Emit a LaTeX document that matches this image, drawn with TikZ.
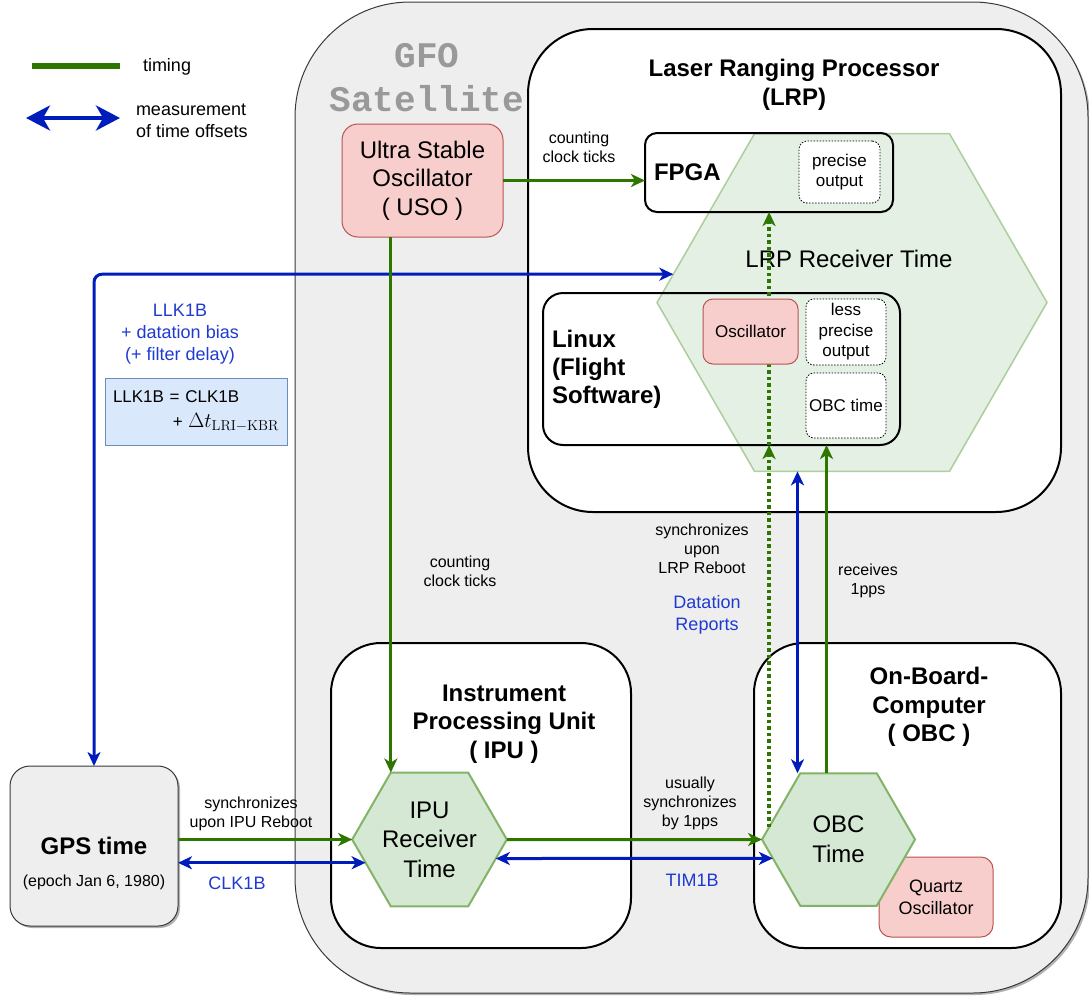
\documentclass[tikz,border=0pt]{standalone}
\usepackage[no-math]{fontspec}
\setmainfont{Liberation Sans}
\newfontfamily\gfomono{Liberation Mono}
\usetikzlibrary{shapes.geometric,arrows.meta,shadows}
\definecolor{timegreen}{HTML}{2D7600}
\definecolor{measblue}{HTML}{001DBC}
\definecolor{labelblue}{HTML}{1E3AD2}
\definecolor{satfill}{HTML}{EEEEEE}
\definecolor{satline}{HTML}{36393D}
\definecolor{satgray}{HTML}{999999}
\definecolor{pinkfill}{HTML}{F8CECC}
\definecolor{pinkline}{HTML}{B85450}
\definecolor{hexfill}{HTML}{D5E8D4}
\definecolor{hexline}{HTML}{82B366}
\definecolor{formulafill}{HTML}{DAE8FC}
\definecolor{formulaline}{HTML}{6C8EBF}
\newcommand{\fsz}[2]{\fontsize{#1}{#2}\selectfont}

\begin{document}
\begin{tikzpicture}[x=1pt,y=-1pt,
    satbox/.style={draw=satline,fill=satfill,line width=1pt,
        drop shadow={shadow xshift=2pt,shadow yshift=-2pt,opacity=0.3,fill=black}},
    unitbox/.style={draw,fill=white,line width=2pt},
    pinkbox/.style={draw=pinkline,fill=pinkfill,line width=1pt,align=center},
    dotbox/.style={draw,fill=white,line width=0.8pt,dash pattern=on 1.5pt off 1.5pt,
        rounded corners=8pt,align=center,font={\fsz{17}{20.5}}},
    hexnode/.style={regular polygon,regular polygon sides=6,draw=hexline,fill=hexfill,
        line width=2pt,align=center},
    unittitle/.style={align=center,font={\fsz{24}{28.5}\bfseries}},
    lbl/.style={align=center,font={\fsz{16}{19}}},
    bluelbl/.style={align=center,text=labelblue,font={\fsz{18}{22}}},
    timing/.style={draw=timegreen,line width=3pt,-{Stealth[length=14pt,width=13pt,inset=4pt]}},
    meas/.style={draw=measblue,line width=3pt,
        {Stealth[length=14pt,width=13pt,inset=4pt]}-{Stealth[length=14pt,width=13pt,inset=4pt]}}]
    \tikzstyle{every node}+=[inner sep=0pt,outer sep=0pt]
    \useasboundingbox (0,0) rectangle (1089,996);

    \coordinate (tleft) at (32,66);
    \coordinate (tright) at (120,66);
    \draw [timegreen,line width=6pt] (tleft) -- (tright);
    \node [anchor=west,font={\fsz{18}{21.5}}] (timinglbl) at (143,67) {timing};
    \coordinate (mleft) at (26,118);
    \coordinate (mright) at (120,118);
    \draw [measblue,line width=4pt,{Stealth[length=24pt,width=25pt,inset=7pt]}-{Stealth[length=24pt,width=25pt,inset=7pt]}] (mleft) -- (mright);
    \node [anchor=west,align=left,font={\fsz{18}{21.5}}] (measlbl) at (136,121) {measurement\\of time offsets};

    \node [satbox,rounded corners=115pt,minimum width=793,minimum height=991] (sat) at (691.5,497.5) {};
    \node [font={\gfomono\bfseries\fsz{36}{44}},text=satgray,align=center] (gfo) at (427,78) {GFO\\Satellite};

    \node [pinkbox,rounded corners=16pt,minimum width=161,minimum height=113,font={\fsz{24}{28.5}}] (uso) at (422.5,180.5) {Ultra Stable\\Oscillator\\( USO )};

    \node [unitbox,rounded corners=65pt,minimum width=533,minimum height=483] (lrp) at (794.5,270.5) {};
    \node [unittitle] (lrptitle) at (794,85) {Laser Ranging Processor\\(LRP)};
    \node [hexnode,minimum size=390,line width=1.5pt,fill opacity=0.65,draw opacity=0.6] (lrphex) at (852,302.5) {};
    \node [unitbox,fill=none,rounded corners=12pt,minimum width=248,minimum height=79] (fpga) at (769,172.5) {};
    \node [anchor=west,font={\fsz{24}{28}\bfseries}] (fpgatitle) at (654,172.5) {FPGA};
    \node [unitbox,fill=none,rounded corners=20pt,minimum width=357,minimum height=152] (linux) at (721.5,369) {};
    \node [anchor=west,align=left,font={\fsz{24}{28}\bfseries}] (linuxtitle) at (552,369) {Linux\\(Flight\\Software)};
    \node [font={\fsz{24}{28}}] (lrptime) at (849,259) {LRP Receiver Time};
    \node [dotbox,minimum width=81,minimum height=62] (precise) at (839.5,172) {precise\\output};
    \node [dotbox,minimum width=80,minimum height=66] (lessprecise) at (846,332) {less\\precise\\output};
    \node [dotbox,minimum width=80,minimum height=65] (obcclock) at (846,405.5) {OBC time};

    \node [unitbox,rounded corners=50pt,minimum width=300,minimum height=305] (ipu) at (481,795.5) {};
    \node [unittitle] (iputitle) at (504,724) {Instrument\\Processing Unit\\( IPU )};
    \node [unitbox,rounded corners=50pt,minimum width=307,minimum height=305] (obc) at (907.5,795.5) {};
    \node [unittitle] (obctitle) at (929,707) {On-Board-\\Computer\\( OBC )};
    \node [pinkbox,rounded corners=12pt,minimum width=114,minimum height=80,font={\fsz{18}{22}}] (quartz) at (936,897) {Quartz\\Oscillator};
    \node [hexnode,minimum size=153,font={\fsz{24}{29.5}}] (ipuhex) at (429.5,839.5) {IPU\\Receiver\\Time};
    \node [hexnode,minimum size=153,font={\fsz{24}{30}}] (obchex) at (838.5,839.5) {OBC\\Time};

    \node [satbox,rounded corners=20pt,minimum width=168,minimum height=160,font={\fsz{24}{28}\bfseries}] (gps) at (94,846) {GPS time};
    \node [font={\fsz{16}{19}}] (epoch) at (94,882) {(epoch Jan 6, 1980)};
    \node [draw=formulaline,fill=formulafill,minimum width=182,minimum height=67,text width=166,align=left,font={\fsz{17}{25}}] (formula) at (196,411.5) {LLK1B = CLK1B\\\hspace*{\fill}+ {\fsz{22}{25}$\Delta t_{\mathrm{LRI-KBR}}$}};

    \draw [meas,rounded corners=8pt] (gps.north) |- (lrphex.171);
    \draw [timing] (uso.east) -- (uso.east -| fpga.west);
    \draw [timing] (uso.south -| ipuhex.corner 2) -- (ipuhex.corner 2);
    \draw [timing] (gps.east |- ipuhex.west) -- (ipuhex.west);
    \draw [meas] (gps.east |- ipuhex.200) -- (ipuhex.200);
    \draw [timing] (ipuhex.east) -- (obchex.west);
    \draw [meas] (ipuhex.-16) -- (obchex.196);
    \draw [timing] ([xshift=-12pt]obchex.north) -- ([xshift=-12pt]obchex.north |- linux.south);
    \draw [meas] ([xshift=-41pt]obchex.north) -- ([xshift=-41pt]obchex.north |- lrphex.south);
    \draw [timing,line width=3.5pt,dash pattern=on 3.5pt off 3pt] (obchex.170) -- (obchex.170 |- linux.south);
    \draw [timing,line width=3.5pt,dash pattern=on 3.5pt off 3pt] (obchex.170 |- linux.south) -- (obchex.170 |- fpga.south);
    \node [pinkbox,rounded corners=10pt,minimum width=95,minimum height=65,font={\fsz{17}{20.5}}] (osc) at (750.5,331.5) {Oscillator};

    \node [bluelbl] (llklbl) at (180,334) {LLK1B\\+ datation bias\\(+ filter delay)};
    \node [lbl] (usoticks) at (579,147) {counting\\clock ticks};
    \node [lbl] (iputicks) at (460,571) {counting\\clock ticks};
    \node [lbl] (lrpsync) at (702,549) {synchronizes\\upon\\LRP Reboot};
    \node [bluelbl] (datation) at (707,615) {Datation\\Reports};
    \node [lbl] (pps) at (868,581) {receives\\1pps};
    \node [lbl] (obcsync) at (690,803) {usually\\synchronizes\\by 1pps};
    \node [bluelbl] (timlbl) at (692,880) {TIM1B};
    \node [lbl] (ipusync) at (251,814) {synchronizes\\upon IPU Reboot};
    \node [bluelbl] (clklbl) at (237,883) {CLK1B};
\end{tikzpicture}
\end{document}
